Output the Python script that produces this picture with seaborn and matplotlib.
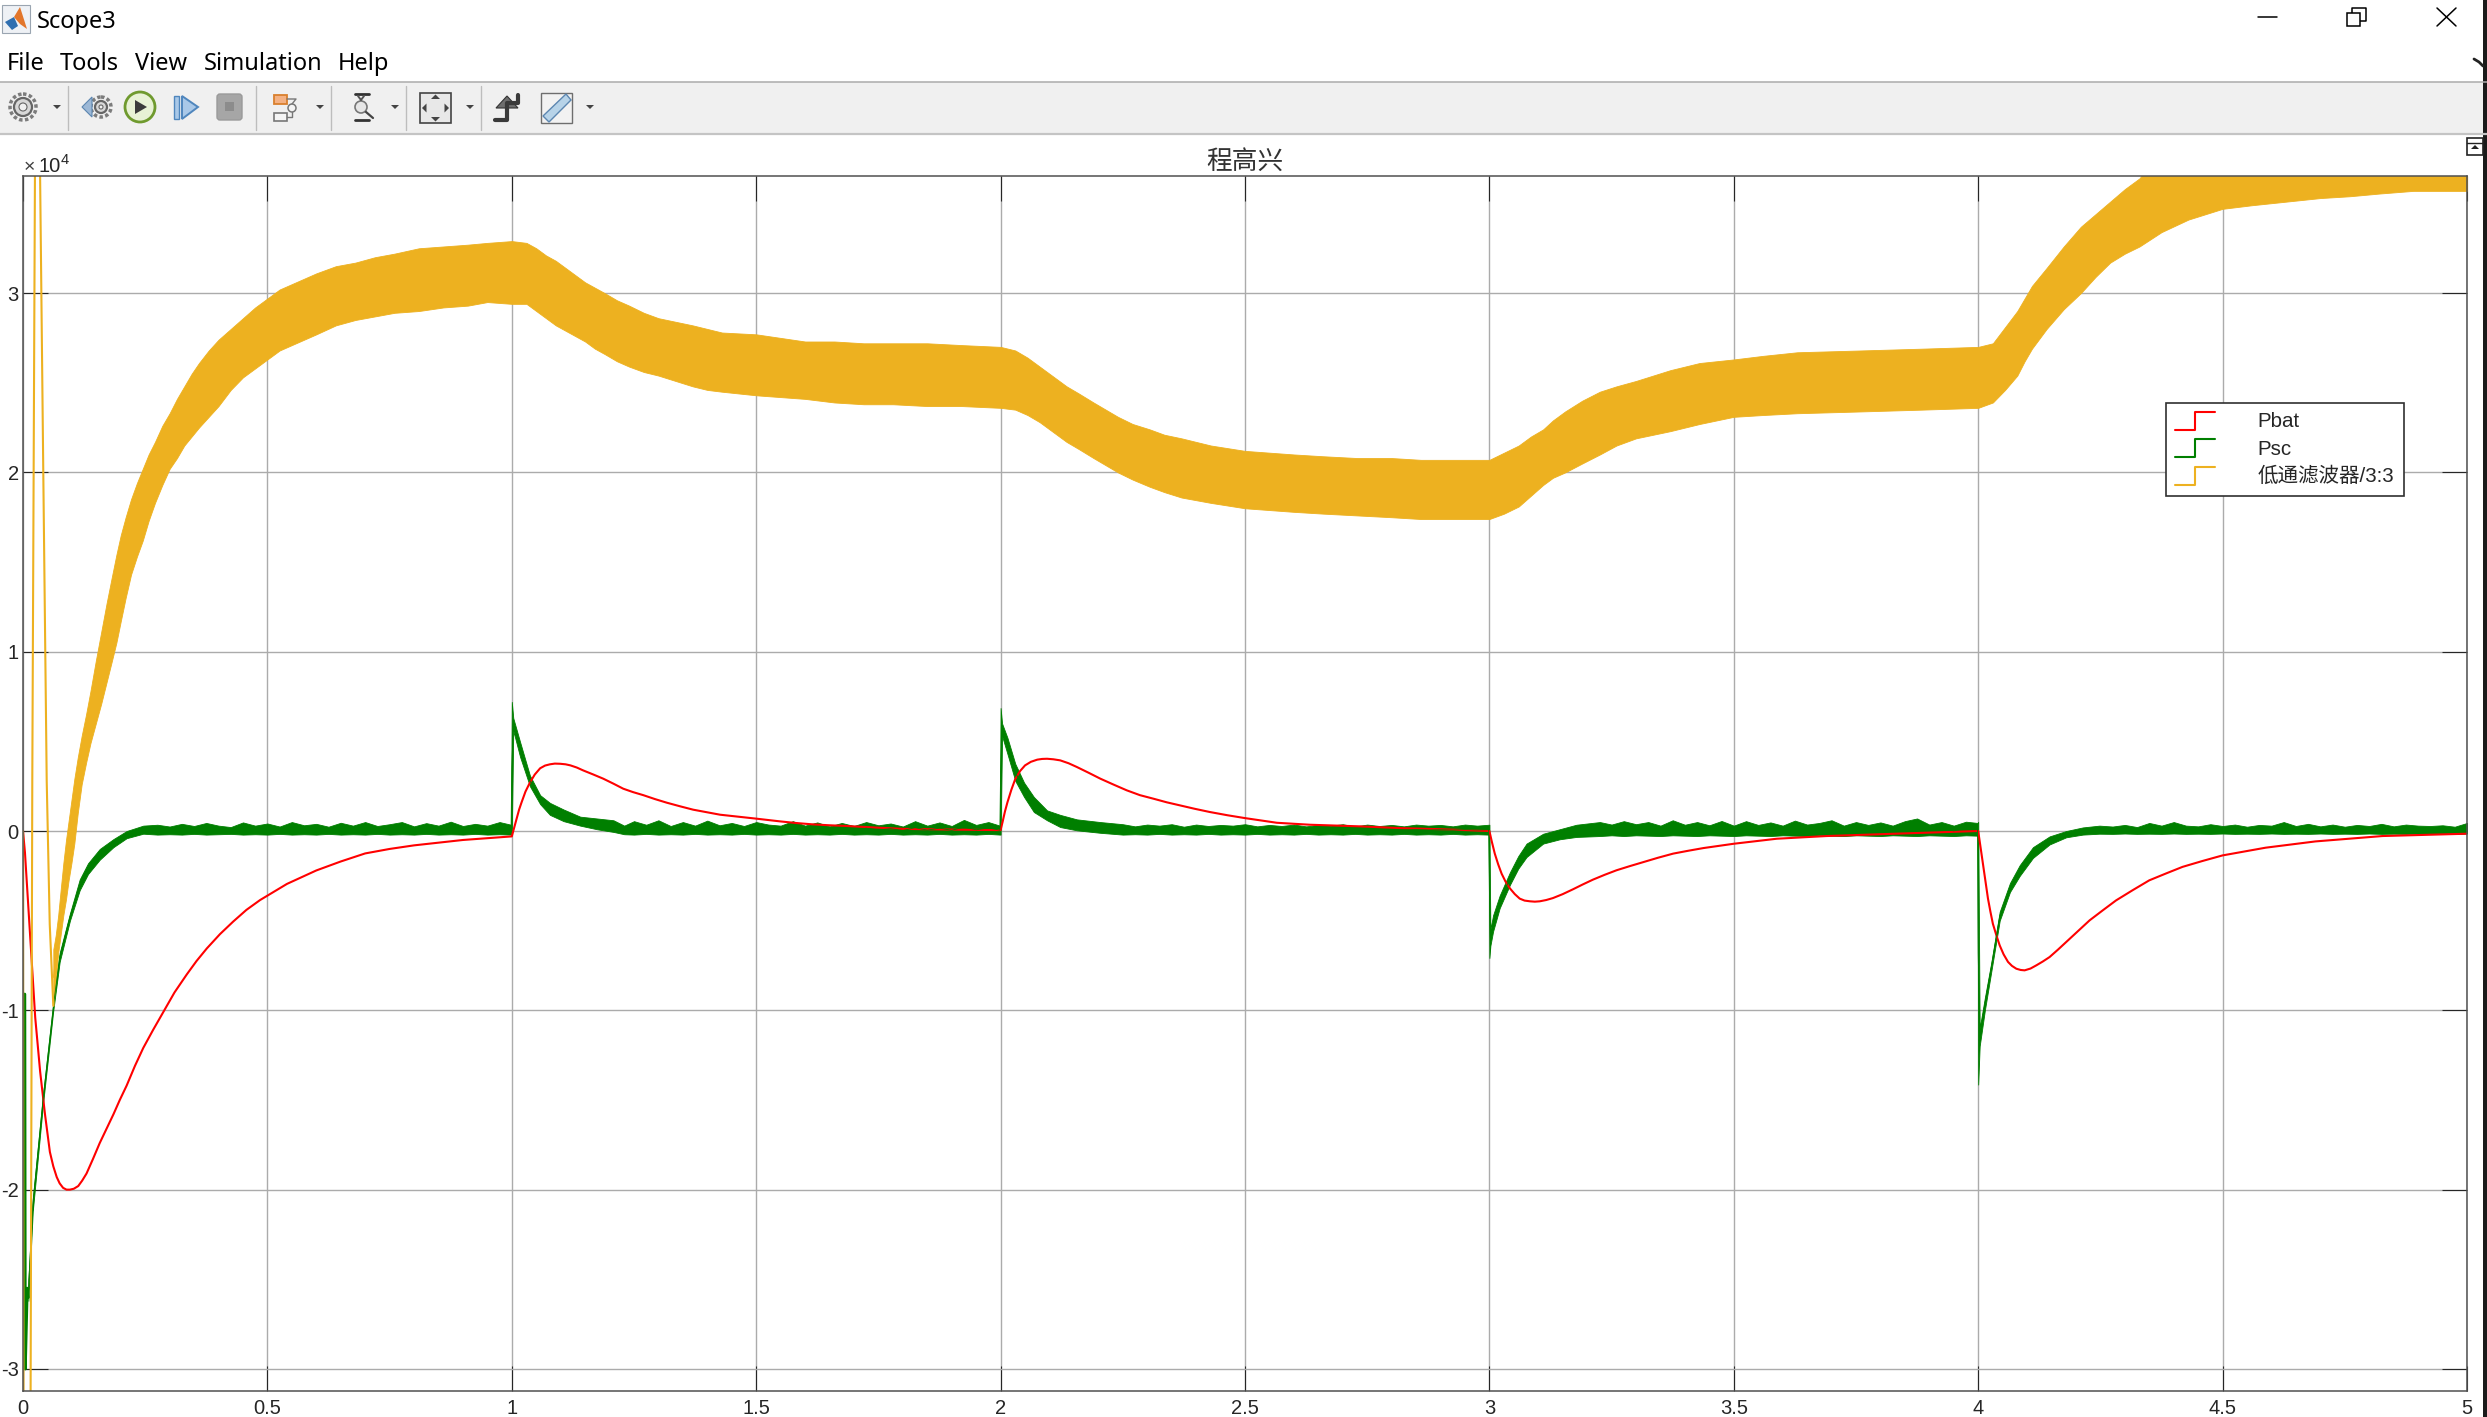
import numpy as np
import pandas as pd
import seaborn as sns
import matplotlib
matplotlib.use('Agg')
import matplotlib.pyplot as plt
from matplotlib.lines import Line2D
from matplotlib.legend_handler import HandlerBase
from matplotlib.patches import Rectangle, Circle, Polygon, FancyBboxPatch

# all values are in units of 1e4
pbat_t = [0, .004, .011, .018, .025, .035, .045, .055, .062, .069, .075, .082, .089, .096, .104, .113, .121, .13,
          .143, .157, .171, .185, .198, .212, .229, .246, .266, .287, .31, .335, .355, .376, .403, .43, .457, .485,
          .54, .6, .65, .7, .75, .8, .85, .9, .95, 1.0,
          1.005, 1.01, 1.015, 1.02, 1.028, 1.037, 1.047, 1.058, 1.068, 1.078, 1.088, 1.099, 1.11, 1.12, 1.133, 1.146,
          1.166, 1.187, 1.208, 1.228, 1.248, 1.269, 1.293, 1.317, 1.344, 1.371, 1.398, 1.426, 1.463, 1.5, 1.548, 1.58,
          1.616, 1.65, 1.685, 1.74, 1.8, 1.9, 2.0,
          2.004, 2.009, 2.014, 2.022, 2.03, 2.04, 2.05, 2.062, 2.075, 2.085, 2.095, 2.108, 2.122, 2.139, 2.156, 2.18,
          2.204, 2.231, 2.258, 2.285, 2.313, 2.34, 2.367, 2.397, 2.428, 2.464, 2.5, 2.565, 2.633, 2.735, 2.82, 2.9, 3.0,
          3.005, 3.011, 3.018, 3.025, 3.033, 3.042, 3.052, 3.062, 3.072, 3.083, 3.093, 3.103, 3.116, 3.13, 3.15, 3.171,
          3.191, 3.212, 3.236, 3.26, 3.287, 3.315, 3.345, 3.376, 3.407, 3.438, 3.469, 3.5, 3.588, 3.69, 3.83, 4.0,
          4.005, 4.01, 4.015, 4.02, 4.025, 4.03, 4.037, 4.044, 4.052, 4.061, 4.069, 4.078, 4.087, 4.095, 4.107, 4.119,
          4.132, 4.146, 4.163, 4.18, 4.204, 4.228, 4.255, 4.282, 4.316, 4.35, 4.384, 4.418, 4.459, 4.5, 4.588, 4.69,
          4.827, 5.0]
pbat_v = [0, -.12, -.43, -.75, -1.04, -1.34, -1.58, -1.79, -1.87, -1.93, -1.965, -1.99, -2.0, -2.0, -1.995, -1.98, -1.95, -1.91,
          -1.83, -1.74, -1.66, -1.58, -1.5, -1.42, -1.31, -1.21, -1.11, -1.01, -.90, -.80, -.725, -.655, -.575, -.505, -.44, -.385,
          -.295, -.22, -.17, -.125, -.10, -.08, -.065, -.05, -.04, -.03,
          .02, .07, .12, .16, .22, .27, .315, .35, .365, .372, .376, .375, .372, .366, .354, .338,
          .316, .292, .264, .236, .217, .2, .178, .158, .138, .119, .105, .091, .08, .069, .054, .045,
          .037, .032, .028, .02, .012, .008, .005,
          .05, .11, .16, .23, .29, .335, .366, .386, .398, .402, .403, .4, .394, .378, .357, .325,
          .292, .259, .227, .2, .18, .16, .143, .124, .106, .088, .072, .046, .035, .026, .016, .01, 0,
          -.06, -.126, -.186, -.238, -.282, -.32, -.352, -.377, -.388, -.392, -.394, -.392, -.385, -.374, -.352, -.325,
          -.298, -.271, -.244, -.219, -.196, -.173, -.149, -.126, -.11, -.095, -.083, -.071, -.043, -.028, -.015, 0,
          -.095, -.19, -.285, -.377, -.45, -.517, -.58, -.638, -.688, -.73, -.752, -.768, -.775, -.777, -.767, -.749,
          -.728, -.703, -.662, -.619, -.558, -.498, -.442, -.387, -.33, -.275, -.237, -.2, -.167, -.136, -.093, -.058,
          -.028, -.015]

psc_spike_t = [.0035, .0045, .0085, .011]
psc_spike_v = [-.91, -3.0, -2.55, -2.6]

psc_t = [.011, .02, .041, .062, .075, .096, .116, .133, .157, .185, .212, .246, .275,
         .3, .325, .35, .375, .4, .425, .45, .475, .5, .525, .55, .575, .6, .625, .65, .675, .7, .725, .75, .775,
         .8, .825, .85, .875, .9, .925, .95, .975, .9985,
         1.0, 1.003, 1.017, 1.037, 1.058, 1.078, 1.106, 1.14, 1.174, 1.208,
         1.23, 1.25, 1.275, 1.3, 1.325, 1.35, 1.375, 1.4, 1.425, 1.45, 1.475, 1.5, 1.525, 1.55, 1.575, 1.6, 1.625,
         1.65, 1.675, 1.7, 1.725, 1.75, 1.775, 1.8, 1.825, 1.85, 1.875, 1.9, 1.925, 1.95, 1.975, 1.9985,
         2.0, 2.003, 2.014, 2.03, 2.048, 2.068, 2.095, 2.122, 2.156, 2.204,
         2.25, 2.275, 2.3, 2.325, 2.35, 2.375, 2.4, 2.425, 2.45, 2.475, 2.5, 2.525, 2.55, 2.575, 2.6, 2.625, 2.65,
         2.675, 2.7, 2.725, 2.75, 2.775, 2.8, 2.825, 2.85, 2.875, 2.9, 2.925, 2.95, 2.975, 2.9985,
         3.0, 3.002, 3.0075, 3.021, 3.042, 3.059, 3.076, 3.11, 3.144, 3.178, 3.226,
         3.25, 3.275, 3.3, 3.325, 3.35, 3.375, 3.4, 3.425, 3.45, 3.475, 3.5, 3.525, 3.55, 3.575, 3.6, 3.625, 3.65,
         3.675, 3.7, 3.725, 3.75, 3.775, 3.8, 3.825, 3.85, 3.875, 3.9, 3.925, 3.95, 3.975, 3.9985,
         4.0, 4.003, 4.0136, 4.027, 4.044, 4.065, 4.085, 4.112, 4.146, 4.18, 4.214, 4.248,
         4.275, 4.3, 4.325, 4.35, 4.375, 4.4, 4.425, 4.45, 4.475, 4.5, 4.525, 4.55, 4.575, 4.6, 4.625, 4.65, 4.675,
         4.7, 4.725, 4.75, 4.775, 4.8, 4.825, 4.85, 4.875, 4.9, 4.925, 4.95, 4.975, 5.0]
psc_hi = [-2.5, -2.05, -1.47, -.96, -.68, -.46, -.27, -.18, -.10, -.045, 0, .03, .035,
          .025, .04, .028, .045, .03, .022, .048, .03, .042, .025, .05, .032, .04, .024, .046, .03, .05, .028, .038,
          .05, .026, .044, .03, .052, .028, .04, .03, .05, .035,
          .72, .63, .496, .31, .20, .157, .12, .08, .07, .06,
          .03, .055, .035, .06, .028, .05, .03, .058, .032, .045, .028, .05, .036, .03, .055, .03, .048, .026, .045,
          .028, .05, .032, .042, .025, .055, .03, .048, .028, .062, .034, .05, .03,
          .686, .60, .52, .375, .27, .19, .115, .09, .065, .05,
          .038, .026, .036, .03, .038, .024, .036, .028, .034, .03, .038, .026, .034, .028, .036, .026, .034, .03,
          .038, .025, .036, .028, .034, .026, .036, .03, .034, .026, .036, .03, .035,
          .035, -.55, -.47, -.36, -.23, -.14, -.07, -.015, .01, .035, .05,
          .036, .055, .038, .05, .03, .06, .035, .05, .032, .056, .03, .055, .034, .048, .03, .058, .036, .045, .06,
          .03, .05, .034, .048, .03, .055, .07, .036, .05, .03, .052, .045,
          .05, -1.1, -.93, -.73, -.45, -.29, -.19, -.09, -.03, 0, .02, .03,
          .025, .034, .022, .045, .03, .05, .03, .026, .038, .028, .036, .024, .034, .03, .05, .028, .04, .026, .036,
          .024, .034, .028, .04, .026, .036, .03, .028, .032, .024, .045]
psc_lo = [-2.62, -2.12, -1.52, -1.0, -.73, -.5, -.33, -.24, -.16, -.09, -.04, -.015, -.02,
          -.018, -.02, -.016, -.02, -.018, -.016, -.02, -.018, -.02, -.016, -.02, -.018, -.02, -.016, -.02, -.018,
          -.02, -.016, -.02, -.018, -.02, -.016, -.02, -.018, -.02, -.016, -.02, -.018, -.02,
          -.02, .56, .413, .25, .15, .09, .055, .03, .01, -.005,
          -.018, -.02, -.016, -.02, -.018, -.02, -.016, -.02, -.018, -.02, -.016, -.02, -.018, -.02, -.016, -.02,
          -.018, -.02, -.016, -.02, -.018, -.02, -.016, -.02, -.018, -.02, -.016, -.02, -.018, -.02, -.016, -.02,
          -.02, .53, .43, .28, .19, .106, .06, .022, .004, -.01,
          -.02, -.018, -.02, -.016, -.02, -.018, -.02, -.016, -.02, -.018, -.02, -.016, -.02, -.018, -.02, -.016,
          -.02, -.018, -.02, -.016, -.02, -.018, -.02, -.016, -.02, -.018, -.02, -.016, -.02, -.018, -.02,
          -.708, -.64, -.56, -.43, -.30, -.21, -.145, -.07, -.046, -.033, -.028,
          -.024, -.028, -.024, -.026, -.028, -.024, -.026, -.028, -.024, -.026, -.028, -.024, -.026, -.028, -.024,
          -.026, -.028, -.024, -.026, -.028, -.024, -.026, -.028, -.024, -.026, -.028, -.024, -.026, -.028, -.024, -.026,
          -1.414, -1.2, -1.0, -.78, -.50, -.34, -.25, -.15, -.075, -.035, -.02, -.015,
          -.016, -.014, -.016, -.015, -.016, -.014, -.016, -.015, -.016, -.014, -.016, -.015, -.016, -.014, -.016,
          -.015, -.016, -.014, -.016, -.015, -.016, -.014, -.016, -.015, -.016, -.014, -.016, -.015, -.016, -.014]

filt_spike_t = [0, .001, .0155, .019, .0245, .0348, .0415, .0485, .0547, .062]
filt_spike_v = [0, -3.2, -3.2, .28, 3.7, 3.7, 2.0, .28, -.52, -.975]

filt_t = [.062, .067, .072, .077, .0825, .088, .093, .099, .105, .112, .12, .129, .138, .149, .16, .171, .182,
          .191, .2, .21, .221, .233, .245, .257, .27, .285, .3, .315, .33, .345, .36, .38, .4, .425, .45, .475, .5,
          .525, .55, .575, .6, .64, .68, .72, .76, .81, .86, .91, .95, 1.0,
          1.03, 1.05, 1.07, 1.09, 1.11, 1.13, 1.15, 1.17, 1.19, 1.215, 1.24, 1.27, 1.3, 1.335, 1.37, 1.4, 1.43, 1.5,
          1.55, 1.6, 1.66, 1.72, 1.78, 1.85, 1.92, 2.0,
          2.03, 2.055, 2.08, 2.105, 2.135, 2.16, 2.19, 2.215, 2.24, 2.27, 2.305, 2.335, 2.37, 2.43, 2.5,
          2.55, 2.6, 2.66, 2.73, 2.8, 2.86, 2.93, 3.0,
          3.03, 3.06, 3.085, 3.11, 3.13, 3.155, 3.19, 3.226, 3.26, 3.3, 3.335, 3.37, 3.43, 3.5, 3.56, 3.63, 3.76, 3.885, 4.0,
          4.03, 4.055, 4.08, 4.095, 4.11, 4.14, 4.175, 4.21, 4.24, 4.27, 4.3, 4.33, 4.375,
          4.43, 4.5, 4.56, 4.63, 4.7, 4.76, 4.82, 4.89, 5.0]
filt_hi = [-.66, -.58, -.47, -.33, -.18, -.05, .05, .17, .29, .41, .53, .65, .78, .95, 1.11, 1.27, 1.42,
           1.54, 1.65, 1.75, 1.85, 1.94, 2.02, 2.10, 2.17, 2.26, 2.33, 2.41, 2.48, 2.55, 2.61, 2.68, 2.74, 2.80, 2.86, 2.92, 2.97,
           3.02, 3.05, 3.08, 3.11, 3.15, 3.17, 3.20, 3.22, 3.25, 3.26, 3.27, 3.28, 3.29,
           3.28, 3.25, 3.21, 3.18, 3.14, 3.10, 3.06, 3.03, 3.0, 2.96, 2.93, 2.89, 2.86, 2.84, 2.82, 2.80, 2.78, 2.77,
           2.75, 2.73, 2.73, 2.72, 2.72, 2.72, 2.71, 2.70,
           2.68, 2.64, 2.59, 2.54, 2.48, 2.44, 2.39, 2.35, 2.31, 2.27, 2.24, 2.21, 2.19, 2.15, 2.12,
           2.11, 2.10, 2.09, 2.08, 2.08, 2.07, 2.07, 2.07,
           2.11, 2.15, 2.20, 2.24, 2.29, 2.34, 2.40, 2.45, 2.48, 2.51, 2.54, 2.57, 2.61, 2.63, 2.65, 2.67, 2.68, 2.69, 2.70,
           2.72, 2.81, 2.90, 2.97, 3.04, 3.14, 3.26, 3.37, 3.44, 3.51, 3.58, 3.64, 3.8,
           3.8, 3.8, 3.8, 3.8, 3.8, 3.8, 3.8, 3.8, 3.8]
filt_lo = [-.975, -.83, -.68, -.58, -.47, -.38, -.28, -.18, -.07, .1, .26, .38, .49, .6, .71, .83, .95,
           1.05, 1.17, 1.30, 1.43, 1.53, 1.62, 1.73, 1.83, 1.93, 2.02, 2.08, 2.15, 2.20, 2.25, 2.31, 2.37, 2.46, 2.53, 2.58, 2.63,
           2.68, 2.71, 2.74, 2.77, 2.82, 2.85, 2.87, 2.89, 2.90, 2.92, 2.93, 2.95, 2.94,
           2.94, 2.90, 2.86, 2.82, 2.79, 2.76, 2.73, 2.69, 2.66, 2.62, 2.59, 2.56, 2.54, 2.51, 2.48, 2.46, 2.45, 2.43,
           2.42, 2.41, 2.39, 2.38, 2.38, 2.37, 2.37, 2.36,
           2.35, 2.32, 2.28, 2.23, 2.17, 2.13, 2.08, 2.04, 2.0, 1.96, 1.92, 1.89, 1.86, 1.83, 1.80,
           1.79, 1.78, 1.77, 1.76, 1.75, 1.74, 1.74, 1.74,
           1.77, 1.81, 1.87, 1.93, 1.97, 2.0, 2.05, 2.10, 2.15, 2.19, 2.21, 2.23, 2.27, 2.31, 2.32, 2.33, 2.34, 2.35, 2.36,
           2.39, 2.46, 2.54, 2.62, 2.69, 2.80, 2.91, 3.0, 3.09, 3.17, 3.22, 3.26, 3.34,
           3.41, 3.47, 3.49, 3.51, 3.53, 3.54, 3.555, 3.57, 3.57]

series_names = ['Pbat', 'Psc', '低通滤波器/3:3']
series_colors = ['#FF0000', '#007F00', '#EDB120']
x_ticks = [0, .5, 1, 1.5, 2, 2.5, 3, 3.5, 4, 4.5, 5]
x_labels = ['0', '0.5', '1', '1.5', '2', '2.5', '3', '3.5', '4', '4.5', '5']
y_ticks = [-3, -2, -1, 0, 1, 2, 3]
menu_items = [('File', 7), ('Tools', 60), ('View', 135), ('Simulation', 204), ('Help', 338)]


class StepHandler(HandlerBase):
    # scope legends show a small step instead of a straight line
    def create_artists(self, legend, orig_handle, xdescent, ydescent, width, height, fontsize, trans):
        x0, x1 = -xdescent, -xdescent + width
        xm = (x0 + x1) / 2
        y0, y1 = -ydescent - 2, -ydescent + height + 1
        line = Line2D([x0, xm, xm, x1], [y0, y0, y1, y1], color=orig_handle.get_color(), lw=1.5, transform=trans)
        return [line]


sns.set_theme(style='white')
plt.rcParams['font.family'] = ['Liberation Sans', 'Noto Sans CJK SC', 'DejaVu Sans']

W, H = 2487, 1417
fig = plt.figure(figsize=(W / 100, H / 100), dpi=100, facecolor='white')
ax = fig.add_axes([23 / W, 1 - 1391 / H, (2467 - 23) / W, (1391 - 176) / H])

# Pbat
pbat_df = pd.DataFrame({'t': pbat_t, 'v': pbat_v})
sns.lineplot(data=pbat_df, x='t', y='v', color=series_colors[0], lw=1.5, estimator=None, sort=False, errorbar=None, ax=ax)

# Psc, noisy so drawn as min/max band
psc_df = pd.DataFrame({'t': psc_t + psc_t, 'v': psc_hi + psc_lo})
sns.lineplot(data=psc_df, x='t', y='v', color=series_colors[1], lw=.6, errorbar=('pi', 100),
             err_kws={'alpha': 1, 'linewidth': .6}, ax=ax)
spike_df = pd.DataFrame({'t': psc_spike_t, 'v': psc_spike_v})
sns.lineplot(data=spike_df, x='t', y='v', color=series_colors[1], lw=2.2, estimator=None, sort=False, errorbar=None, ax=ax)

# low pass filter output
filt_df = pd.DataFrame({'t': filt_t + filt_t, 'v': filt_hi + filt_lo})
sns.lineplot(data=filt_df, x='t', y='v', color=series_colors[2], lw=.6, errorbar=('pi', 100),
             err_kws={'alpha': 1, 'linewidth': .6}, ax=ax)
filt_spike_df = pd.DataFrame({'t': filt_spike_t, 'v': filt_spike_v})
sns.lineplot(data=filt_spike_df, x='t', y='v', color=series_colors[2], lw=1.5, estimator=None, sort=False, errorbar=None, ax=ax)

ax.set_xlim(0, 5)
ax.set_ylim(-3.123, 3.653)
ax.set_xticks(x_ticks)
ax.set_xticklabels(x_labels)
ax.set_yticks(y_ticks)
ax.set_yticklabels([str(v) for v in y_ticks])
ax.set_xlabel('')
ax.set_ylabel('')
ax.set_axisbelow(True)
ax.grid(True, color='#ABABAB', lw=1.0)
ax.tick_params(direction='in', length=18, width=.8, color='#262626', top=True, right=True, bottom=True, left=True,
               labelsize=14.5, labelcolor='#262626')
ax.tick_params(axis='x', pad=6)
ax.tick_params(axis='y', pad=3)
for s in ax.spines.values():
    s.set_visible(True)
    s.set_color('#505050')
    s.set_linewidth(1.1)
ax.set_title('程高兴', fontsize=18.5, color='#333333', pad=5.5)

handles = [Line2D([], [], color=c, label=n) for c, n in zip(series_colors, series_names)]
leg = ax.legend(handles=handles, handler_map={Line2D: StepHandler()}, loc='upper left',
                bbox_to_anchor=(2166 / W, 1 - 403 / H), bbox_transform=fig.transFigure, borderaxespad=0,
                fontsize=14.8, handlelength=1.9, handletextpad=2.1, labelspacing=.4, borderpad=.46,
                frameon=True, fancybox=False, framealpha=1, edgecolor='#303030', facecolor='white')
leg.get_frame().set_linewidth(1.2)

# window chrome, pixel coordinates of the screenshot
over = fig.add_axes([0, 0, 1, 1], zorder=5)
over.set_xlim(0, W)
over.set_ylim(H, 0)
over.axis('off')
over.patch.set_alpha(0)

over.add_patch(Rectangle((0, 82), W, 51, fc='#F0F0F0', ec='none'))
over.plot([0, W], [82, 82], color='#ABABAB', lw=1.1)
over.plot([0, W], [133.5, 133.5], color='#C4C4C4', lw=1.6)
for sx in [68, 256, 331, 406, 481]:
    over.plot([sx, sx], [86, 130], color='#BDBDBD', lw=1)

# matlab logo
over.add_patch(Rectangle((2, 5), 28, 28, fc='#EEF1F5', ec='#9AA5B1', lw=.8))
over.add_patch(Polygon([[5, 22], [14, 17], [18, 26], [12, 30]], fc='#2F6FB0', ec='none'))
over.add_patch(Polygon([[14, 17], [20, 7], [27, 29], [20, 24]], fc='#E2762B', ec='none'))
over.text(37, 21.5, 'Scope3', fontsize=17, family='Noto Sans', color='black', va='center')
for name, mx in menu_items:
    over.text(mx, 64, name, fontsize=17, family='Noto Sans', color='black', va='center')

# window buttons
over.plot([2258, 2277], [17, 17], color='black', lw=1.1)
over.add_patch(Rectangle((2347, 13), 13, 13, fc='white', ec='black', lw=1.1, zorder=3))
over.plot([2352, 2352, 2366, 2366, 2360], [13, 8, 8, 21, 21], color='black', lw=1.1)
over.plot([2437, 2456], [8, 26], color='black', lw=1.1)
over.plot([2437, 2456], [26, 8], color='black', lw=1.1)
over.add_patch(Rectangle((2483, 0), 4, H, fc='#1A1A1A', ec='none'))
over.plot([2474, 2479, 2483], [59, 62, 66], color='#222222', lw=2)
over.add_patch(Rectangle((2467, 138), 16, 17, fc='white', ec='#222222', lw=1.2))
over.plot([2467, 2483], [143, 143], color='#222222', lw=1)
over.add_patch(Polygon([[2471, 149], [2475, 145], [2479, 149]], fc='#222222', ec='none'))

# toolbar icons
for gx in [23, 101]:
    r = 11 if gx == 23 else 8
    over.add_patch(Circle((gx, 107), r + 2, fc='none', ec='#7C7C7C', lw=2.5, ls=(0, (1, .7))))
    over.add_patch(Circle((gx, 107), r - 2, fc='#D8D8D8', ec='#666666', lw=1.6))
    over.add_patch(Circle((gx, 107), r - 7 if r > 8 else 2, fc='#F0F0F0', ec='#666666', lw=.8))
over.add_patch(Polygon([[82, 107], [92, 97], [92, 117]], fc='#9CB8D6', ec='#5C86B0', lw=.8))
over.add_patch(Circle((140, 107), 15, fc='#E8F2D5', ec='#6F9A2E', lw=2))
over.add_patch(Polygon([[135, 100], [147, 107], [135, 114]], fc='#3B3B3B', ec='none'))
over.add_patch(Rectangle((174, 96), 5, 23, fc='#A9C8E8', ec='#4F86BD', lw=1))
over.add_patch(Polygon([[182, 96], [198, 107], [182, 119]], fc='#A9C8E8', ec='#4F86BD', lw=1.4))
over.add_patch(FancyBboxPatch((220, 97), 19, 20, boxstyle='round,pad=3', fc='#A6A6A6', ec='#9A9A9A'))
over.add_patch(Rectangle((225, 102), 9, 9, fc='#8C8C8C', ec='none'))
over.add_patch(Rectangle((274, 95), 13, 9, fc='#F4B183', ec='#D9802E', lw=1.3))
over.add_patch(Rectangle((274, 113), 13, 8, fc='#F4F4F4', ec='#777777', lw=1.2))
over.add_patch(Circle((292, 108), 4, fc='#F4F4F4', ec='#777777', lw=1.1))
over.plot([287, 296, 292], [99, 99, 104], color='#777777', lw=1)
over.plot([292, 292, 287], [112, 117, 117], color='#777777', lw=1)
over.plot([355, 369], [94, 94], color='#333333', lw=2)
over.plot([355, 369], [120, 120], color='#333333', lw=2)
over.add_patch(Circle((361, 107), 6, fc='#E6E6E6', ec='#777777', lw=1.2))
over.plot([358, 361], [96, 100], color='#555555', lw=1.4)
over.plot([364, 361], [96, 100], color='#555555', lw=1.4)
over.plot([366, 373], [112, 118], color='#444444', lw=1.6)
over.add_patch(Rectangle((420, 93), 31, 30, fc='#E8E8E8', ec='#444444', lw=1.2))
for dx, dy in [(0, -9), (0, 9), (-9, 0), (9, 0)]:
    cx, cy = 435.5 + dx, 108 + dy
    over.add_patch(Polygon([[cx + dx * .5, cy + dy * .5], [cx + dy * .5, cy + dx * .5], [cx - dy * .5, cy - dx * .5]],
                           fc='#444444', ec='none'))
over.plot([495, 507, 507, 518, 518], [120, 120, 103, 103, 95], color='#3A3A3A', lw=3)
over.add_patch(Polygon([[496, 108], [507, 96], [518, 108]], fc='#6E6E6E', ec='#333333', lw=.8))
over.add_patch(Rectangle((541, 93), 31, 30, fc='#F2F2F2', ec='#6E6E6E', lw=1))
over.add_patch(Polygon([[543, 116], [566, 94], [571, 100], [549, 122]], fc='#B7D3E8', ec='#5C86B0', lw=1))
for dx in [57, 320, 395, 470, 590]:
    over.add_patch(Polygon([[dx - 4, 105], [dx + 4, 105], [dx, 109]], fc='#444444', ec='none'))

# exponent of the y axis
over.text(24, 168, '×', fontsize=14, color='#404040', va='center')
over.text(39, 167, '10', fontsize=14.5, color='#262626', va='center')
over.text(61, 160, '4', fontsize=10.5, color='#262626', va='center')

fig.savefig('out.png', dpi=100)
